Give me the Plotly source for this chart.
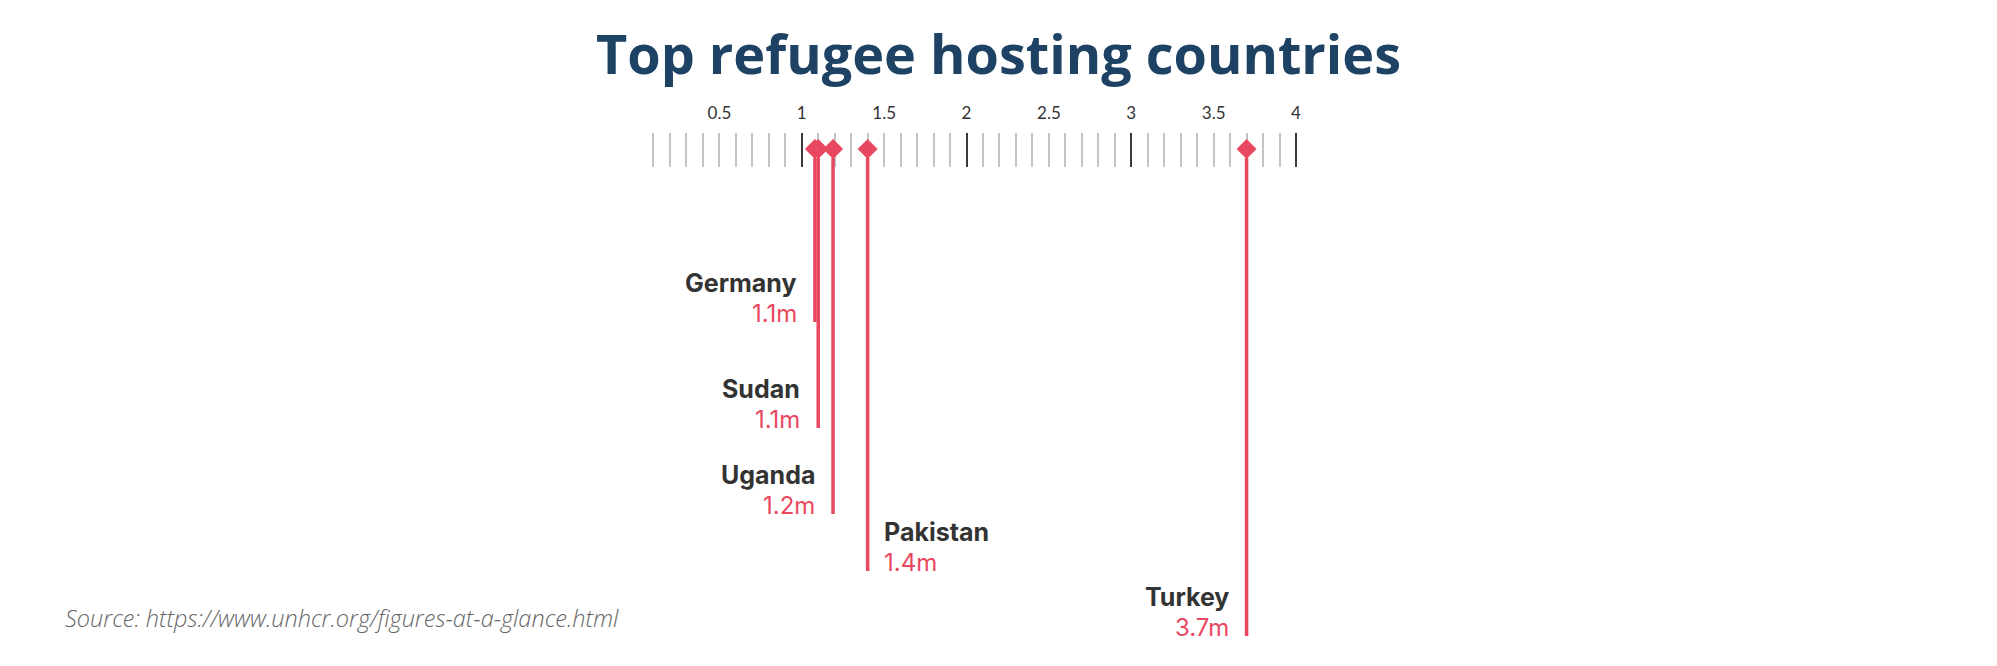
import plotly.graph_objects as go

# ---- data ----
countries = ["Germany", "Sudan", "Uganda", "Pakistan", "Turkey"]
refugees_m = [1.08, 1.10, 1.19, 1.40, 3.70]
value_labels = ["1.1m", "1.1m", "1.2m", "1.4m", "3.7m"]
label_side = ["left", "left", "left", "right", "left"]
line_end_px = [322, 428, 514, 571, 636]   # where each drop line stops (layout)

label_ticks = [0.5, 1, 1.5, 2, 2.5, 3, 3.5, 4]
label_text = ["0.5", "1", "1.5", "2", "2.5", "3", "3.5", "4"]
major_ticks = [1, 2, 3, 4]
minor_ticks = [round(0.1 * i, 1) for i in range(1, 40) if i % 10 != 0]

# ---- layout constants ----
W, H = 1997, 666
X0_PX, X4_PX = 637, 1296
PX_PER_UNIT = (X4_PX - X0_PX) / 4.0
X_RANGE = [-X0_PX / PX_PER_UNIT, (W - X0_PX) / PX_PER_UNIT]
PLOT_TOP = 133
MARK_Y = 149
RED = "#e8485f"
DARK = "#333333"

fig = go.Figure()

# drop lines
lx, ly = [], []
for v, end in zip(refugees_m, line_end_px):
    lx += [v, v, None]
    ly += [MARK_Y + 9, end, None]
fig.add_trace(go.Scatter(x=lx, y=ly, mode="lines",
                         line=dict(color=RED, width=3.5),
                         hoverinfo="skip", showlegend=False))

# markers on the scale
fig.add_trace(go.Scatter(x=refugees_m, y=[MARK_Y] * len(refugees_m), mode="markers",
                         marker=dict(symbol="diamond", size=15, color=RED,
                                     line=dict(color=RED, width=0.5)),
                         text=countries, hoverinfo="text", showlegend=False,
                         cliponaxis=False))

# invisible trace for label axis
fig.add_trace(go.Scatter(x=label_ticks, y=[None] * len(label_ticks), xaxis="x2",
                         mode="markers", hoverinfo="skip", showlegend=False))

annotations = []
for c, v, lab, side, end in zip(countries, refugees_m, value_labels, label_side, line_end_px):
    if side == "left":
        xa, xs = "right", -16
    else:
        xa, xs = "left", 14
    annotations.append(dict(x=v, y=end - 39, xref="x", yref="y", text="<b>%s</b>" % c,
                            showarrow=False, xanchor=xa, yanchor="middle", xshift=xs,
                            font=dict(family="Inter", size=25, color=DARK)))
    annotations.append(dict(x=v, y=end - 9, xref="x", yref="y", text=lab,
                            showarrow=False, xanchor=xa, yanchor="middle", xshift=xs,
                            font=dict(family="Inter", size=24, color=RED)))

annotations.append(dict(x=63 / W, y=618, xref="paper", yref="y",
                        text="Source: https://www.unhcr.org/figures-at-a-glance.html",
                        showarrow=False, xanchor="left", yanchor="middle",
                        font=dict(family="Open Sans", size=23.5, color="#666666",
                                  style="italic", weight=300)))

fig.update_layout(
    width=W, height=H,
    margin=dict(l=0, r=0, t=PLOT_TOP, b=0),
    paper_bgcolor="white", plot_bgcolor="white",
    title=dict(text="<b>Top refugee hosting countries</b>", x=0.5, xanchor="center",
               y=1 - 55 / H, yanchor="middle", xref="container", yref="container",
               font=dict(family="Open Sans", size=54, color="#1d4263")),
    xaxis=dict(range=X_RANGE, side="top", anchor="y", ticks="inside",
               tickvals=major_ticks, ticklen=34, tickwidth=2, tickcolor="#3a3a3a",
               showticklabels=False, showgrid=False, zeroline=False, showline=False,
               layer="below traces", fixedrange=True,
               minor=dict(tickvals=minor_ticks, ticks="inside", ticklen=34,
                          tickwidth=2, tickcolor="#c4c4c4", showgrid=False)),
    xaxis2=dict(range=X_RANGE, overlaying="x", side="top", anchor="y",
                tickvals=label_ticks, ticktext=label_text, ticks="",
                ticklabelstandoff=10,
                showgrid=False, zeroline=False, showline=False,
                tickfont=dict(family="Lato", size=17, color=DARK), fixedrange=True),
    yaxis=dict(range=[H, PLOT_TOP], visible=False, fixedrange=True),
    annotations=annotations,
    showlegend=False,
)

fig.write_html("out.html", config={"displayModeBar": False},
               post_script="document.body.style.margin='0';")
